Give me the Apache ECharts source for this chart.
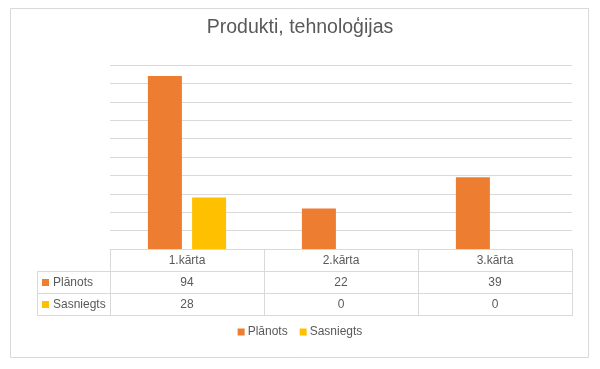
<!DOCTYPE html>
<html><head><meta charset="utf-8">
<script src="https://cdn.jsdelivr.net/npm/echarts@6/dist/echarts.min.js"></script>
<style>html,body{margin:0;padding:0;background:#fff}#c{width:600px;height:369px}</style>
</head><body><div id="c"></div>
<script>
var titleText = 'Produkti, tehnoloģijas';
var categories = ['1.kārta', '2.kārta', '3.kārta'];
var seriesNames = ['Plānots', 'Sasniegts'];
var planned = [94, 22, 39];
var achieved = [28, 0, 0];
var seriesColors = ['#ED7D31', '#FFC000'];

var FONT = '"Liberation Sans", Arial, sans-serif';
var TXT = '#595959';
var LINE = '#d9d9d9';

var chart = echarts.init(document.getElementById('c'), null, {renderer: 'canvas'});
var seriesData = [planned, achieved];
chart.setOption({
  animation: false,
  title: {text: titleText, left: 'center', top: 13,
    textStyle: {fontFamily: FONT, fontSize: 19.5, fontWeight: 'normal', color: TXT}},
  legend: {bottom: 26, left: 'center', itemWidth: 7, itemHeight: 7, itemGap: 12,
    icon: 'rect', data: seriesNames,
    textStyle: {fontFamily: FONT, fontSize: 12, color: TXT, padding: [0, 0, 0, -2]}},
  grid: {left: 110, right: 28, top: 65, bottom: 120},
  xAxis: {type: 'category', data: categories,
    axisLine: {show: true, lineStyle: {color: LINE}}, axisTick: {show: false},
    axisLabel: {show: false}},
  yAxis: {type: 'value', min: 0, max: 100, interval: 10,
    axisLabel: {show: false}, axisLine: {show: false}, axisTick: {show: false},
    splitLine: {lineStyle: {color: LINE, width: 1}}},
  series: seriesNames.map(function (n, i) {
    return {name: n, type: 'bar', data: seriesData[i], barWidth: 34, barGap: '30%',
      itemStyle: {color: seriesColors[i]}};
  })
});

// data table drawn under the plot, aligned with the category axis
var c0 = chart.convertToPixel({xAxisIndex: 0}, 0);
var c1 = chart.convertToPixel({xAxisIndex: 0}, 1);
var half = (c1 - c0) / 2;
var base = Math.round(chart.convertToPixel({yAxisIndex: 0}, 0));
var rowH = 22;
var labelLeft = 37;
var nRows = seriesNames.length + 1;
var colEdges = [];
for (var i = 0; i <= categories.length; i++) colEdges.push(Math.round(c0 - half + i * 2 * half));
var left = colEdges[0], right = colEdges[colEdges.length - 1];
var els = [];
function hline(x1, x2, y) { els.push({type: 'line', shape: {x1: x1, y1: y + 0.5, x2: x2, y2: y + 0.5}, style: {stroke: LINE, lineWidth: 1}}); }
function vline(x, y1, y2) { els.push({type: 'line', shape: {x1: x + 0.5, y1: y1, x2: x + 0.5, y2: y2}, style: {stroke: LINE, lineWidth: 1}}); }
hline(left, right + 1, base);
for (var r = 1; r <= nRows; r++) hline(labelLeft, right + 1, base + r * rowH);
var bottomY = base + nRows * rowH + 1;
vline(labelLeft, base + rowH, bottomY);
colEdges.forEach(function (x) { vline(x, base, bottomY); });
function txt(x, y, s, align) {
  els.push({type: 'text', x: x, y: y, style: {text: s, fill: TXT, font: '12px ' + FONT, textAlign: align, textVerticalAlign: 'middle'}});
}
categories.forEach(function (cat, i) {
  var cx = chart.convertToPixel({xAxisIndex: 0}, i);
  txt(cx, base + rowH / 2 + 1, cat, 'center');
  seriesData.forEach(function (arr, r) { txt(cx, base + rowH * (r + 1.5) + 1, String(arr[i]), 'center'); });
});
seriesNames.forEach(function (n, r) {
  var cy = base + rowH * (r + 1.5) + 1;
  els.push({type: 'rect', shape: {x: 42, y: Math.round(cy - 4), width: 7, height: 7}, style: {fill: seriesColors[r]}});
  txt(53, cy, n, 'left');
});
els.push({type: 'rect', shape: {x: 10.5, y: 8.5, width: 578, height: 349}, style: {fill: 'none', stroke: LINE, lineWidth: 1}});
chart.setOption({graphic: els});
</script></body></html>
